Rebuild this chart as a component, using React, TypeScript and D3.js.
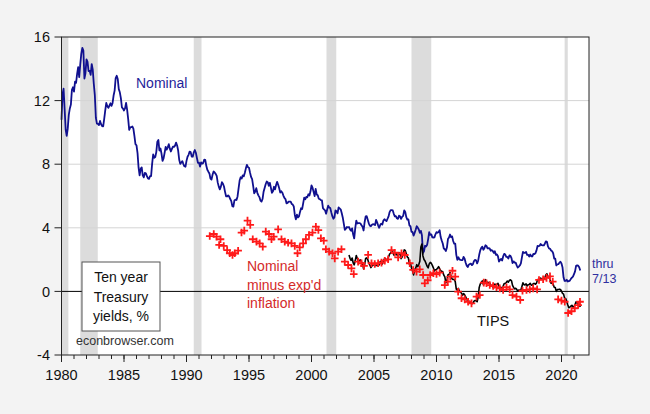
import React from "react";
import * as d3 from "d3";

// Ten-year Treasury nominal yield, monthly from Jan 1980
const nominalStart = 1980;
const nominal = [
  10.8, 12.41, 12.75, 11.47, 10.18, 9.78, 10.25, 11.1, 11.51, 11.75, 12.68, 12.84,
  12.57, 13.19, 13.12, 13.68, 14.1, 13.47, 14.28, 14.94, 15.32, 15.15, 13.39, 13.72,
  14.59, 14.43, 13.86, 13.87, 13.62, 14.3, 13.95, 13.06, 12.34, 10.91, 10.55, 10.54,
  10.46, 10.72, 10.51, 10.4, 10.38, 10.85, 11.38, 11.85, 11.65, 11.54, 11.69, 11.83,
  11.67, 11.84, 12.32, 12.63, 13.41, 13.56, 13.36, 12.72, 12.52, 12.16, 11.57, 11.5,
  11.38, 11.51, 11.86, 11.43, 10.85, 10.16, 10.31, 10.33, 10.37, 10.24, 9.78, 9.26,
  9.19, 8.7, 7.78, 7.3, 7.71, 7.8, 7.3, 7.17, 7.45, 7.43, 7.25, 7.11,
  7.08, 7.25, 7.25, 8.02, 8.61, 8.4, 8.45, 8.76, 9.42, 9.52, 8.86, 8.99,
  8.67, 8.21, 8.37, 8.72, 9.09, 8.92, 9.06, 9.26, 8.98, 8.8, 8.96, 9.11,
  9.09, 9.17, 9.36, 9.18, 8.86, 8.28, 8.02, 8.11, 8.19, 8.01, 7.87, 7.84,
  8.21, 8.47, 8.59, 8.79, 8.76, 8.48, 8.47, 8.75, 8.89, 8.72, 8.39, 8.08,
  8.09, 7.85, 8.11, 8.04, 8.07, 8.28, 8.27, 7.9, 7.65, 7.53, 7.42, 7.09,
  7.03, 7.34, 7.54, 7.48, 7.39, 7.26, 6.84, 6.59, 6.42, 6.59, 6.87, 6.77,
  6.6, 6.26, 5.98, 5.97, 6.04, 5.96, 5.81, 5.68, 5.36, 5.33, 5.72, 5.77,
  5.75, 5.97, 6.48, 6.97, 7.18, 7.1, 7.3, 7.24, 7.46, 7.74, 7.96, 7.81,
  7.78, 7.47, 7.2, 7.06, 6.63, 6.17, 6.28, 6.49, 6.2, 6.04, 5.93, 5.71,
  5.65, 5.81, 6.27, 6.51, 6.74, 6.91, 6.87, 6.64, 6.83, 6.53, 6.2, 6.3,
  6.58, 6.42, 6.69, 6.89, 6.71, 6.49, 6.22, 6.3, 6.21, 6.03, 5.88, 5.81,
  5.54, 5.57, 5.65, 5.64, 5.65, 5.5, 5.46, 5.34, 4.81, 4.53, 4.83, 4.65,
  4.72, 5.0, 5.23, 5.18, 5.54, 5.9, 5.79, 5.94, 5.92, 6.11, 6.03, 6.28,
  6.66, 6.52, 6.26, 5.99, 6.44, 6.1, 6.05, 5.83, 5.8, 5.74, 5.72, 5.24,
  5.16, 5.1, 4.89, 5.14, 5.39, 5.28, 5.24, 4.97, 4.73, 4.57, 4.65, 5.09,
  5.04, 4.91, 5.28, 5.21, 5.16, 4.93, 4.65, 4.26, 3.87, 3.94, 4.05, 4.03,
  4.05, 3.9, 3.81, 3.96, 3.57, 3.33, 3.98, 4.45, 4.27, 4.29, 4.3, 4.27,
  4.15, 4.08, 3.83, 4.35, 4.72, 4.73, 4.5, 4.28, 4.13, 4.1, 4.19, 4.23,
  4.22, 4.17, 4.5, 4.34, 4.14, 4.0, 4.18, 4.26, 4.2, 4.46, 4.54, 4.47,
  4.42, 4.57, 4.72, 4.99, 5.11, 5.11, 5.09, 4.88, 4.72, 4.73, 4.6, 4.56,
  4.76, 4.72, 4.56, 4.69, 4.75, 5.1, 5.0, 4.67, 4.52, 4.53, 4.15, 4.1,
  3.74, 3.74, 3.51, 3.68, 3.88, 4.1, 4.01, 3.89, 3.69, 3.81, 3.53, 2.42,
  2.52, 2.87, 2.82, 2.93, 3.29, 3.72, 3.56, 3.59, 3.4, 3.39, 3.4, 3.59,
  3.73, 3.69, 3.73, 3.85, 3.42, 3.2, 3.01, 2.7, 2.65, 2.54, 2.76, 3.29,
  3.39, 3.58, 3.41, 3.46, 3.17, 3.0, 3.0, 2.3, 1.98, 2.15, 2.01, 1.98,
  1.97, 1.97, 2.17, 2.05, 1.8, 1.62, 1.53, 1.68, 1.72, 1.75, 1.65, 1.72,
  1.91, 1.98, 1.96, 1.76, 1.93, 2.3, 2.58, 2.74, 2.81, 2.62, 2.72, 2.9,
  2.86, 2.71, 2.72, 2.71, 2.56, 2.6, 2.54, 2.42, 2.53, 2.3, 2.33, 2.21,
  1.88, 1.98, 2.04, 1.94, 2.2, 2.36, 2.32, 2.17, 2.17, 2.07, 2.26, 2.24,
  2.09, 1.78, 1.89, 1.81, 1.81, 1.64, 1.5, 1.56, 1.63, 1.76, 2.14, 2.49,
  2.43, 2.42, 2.48, 2.3, 2.3, 2.19, 2.32, 2.21, 2.2, 2.36, 2.35, 2.4,
  2.58, 2.86, 2.84, 2.87, 2.98, 2.91, 2.89, 2.89, 3.0, 3.15, 3.12, 2.83,
  2.71, 2.68, 2.57, 2.53, 2.4, 2.07, 2.06, 1.63, 1.7, 1.71, 1.81, 1.86,
  1.76, 1.5, 0.87, 0.66, 0.67, 0.73, 0.62, 0.65, 0.68, 0.79, 0.87, 0.93,
  1.08, 1.26, 1.61, 1.64, 1.62, 1.52, 1.32,
];

// Ten-year TIPS yield, monthly from Jan 2003
const tipsStart = 2003;
const tips = [
  2.29, 2.08, 1.95, 2.1, 1.8, 1.67, 1.94, 2.26, 2.07, 1.92, 1.96, 1.98,
  1.86, 1.73, 1.42, 1.69, 2.07, 2.11, 2.01, 1.79, 1.66, 1.5, 1.6, 1.68,
  1.67, 1.62, 1.75, 1.61, 1.62, 1.67, 1.88, 1.89, 1.73, 1.88, 2.05, 2.06,
  1.98, 2.01, 2.17, 2.35, 2.42, 2.53, 2.5, 2.29, 2.31, 2.41, 2.29, 2.25,
  2.44, 2.35, 2.06, 2.16, 2.32, 2.61, 2.57, 2.37, 2.16, 2.11, 1.7, 1.78,
  1.47, 1.28, 1.04, 1.36, 1.45, 1.68, 1.56, 1.69, 1.9, 2.79, 2.98, 2.23,
  2.01, 1.91, 1.75, 1.58, 1.48, 1.73, 1.82, 1.77, 1.64, 1.48, 1.28, 1.36,
  1.37, 1.45, 1.56, 1.43, 1.31, 1.26, 1.24, 1.02, 0.91, 0.53, 0.67, 1.04,
  1.06, 1.19, 0.94, 0.78, 0.75, 0.76, 0.62, 0.14, 0.08, 0.19, 0.0, -0.03,
  -0.11, -0.25, -0.14, -0.21, -0.34, -0.5, -0.6, -0.59, -0.71, -0.74, -0.78, -0.75,
  -0.61, -0.57, -0.59, -0.65, -0.36, 0.25, 0.46, 0.55, 0.66, 0.43, 0.55, 0.74,
  0.61, 0.55, 0.56, 0.54, 0.37, 0.37, 0.28, 0.22, 0.46, 0.38, 0.45, 0.51,
  0.29, 0.25, 0.26, 0.09, 0.33, 0.5, 0.5, 0.56, 0.65, 0.58, 0.69, 0.73,
  0.67, 0.38, 0.25, 0.16, 0.2, 0.13, 0.02, 0.09, 0.07, 0.09, 0.31, 0.54,
  0.42, 0.4, 0.48, 0.34, 0.42, 0.44, 0.51, 0.39, 0.39, 0.5, 0.5, 0.45,
  0.52, 0.74, 0.74, 0.75, 0.84, 0.78, 0.78, 0.76, 0.86, 1.04, 1.1, 0.94,
  0.88, 0.73, 0.51, 0.54, 0.45, 0.26, 0.24, 0.0, 0.11, 0.12, 0.14, 0.12,
  0.01, -0.12, -0.17, -0.44, -0.45, -0.62, -0.84, -1.03, -0.99, -0.93, -0.87, -0.98,
  -0.98, -0.82, -0.66, -0.69, -0.85, -0.81, -0.98,
];

// Nominal minus expected inflation (crosses)
const realDates = [
  1991.86, 1992.18, 1992.4, 1992.61, 1992.72, 1992.98, 1993.25, 1993.46, 1993.68, 1993.86,
  1994.13, 1994.4, 1994.62, 1994.88, 1995.1, 1995.3, 1995.6, 1995.85, 1996.1, 1996.34,
  1996.6, 1996.8, 1996.98, 1997.33, 1997.6, 1997.86, 1998.13, 1998.4, 1998.66, 1998.88,
  1999.06, 1999.33, 1999.55, 1999.8, 2000.08, 2000.35, 2000.55, 2000.75, 2000.98, 2001.15,
  2001.41, 2001.68, 2001.86, 2002.13, 2002.4, 2002.66, 2002.93, 2003.2, 2003.38, 2003.73,
  2004.0, 2004.2, 2004.53, 2004.8, 2005.06, 2005.33, 2005.6, 2005.86, 2006.13, 2006.4,
  2006.66, 2006.93, 2007.2, 2007.46, 2007.86, 2008.13, 2008.4, 2008.66, 2008.93, 2009.06,
  2009.3, 2009.5, 2009.75, 2010.0, 2010.25, 2010.66, 2010.9, 2011.1, 2011.28, 2011.5,
  2011.73, 2012.0, 2012.26, 2012.53, 2012.8, 2013.2, 2013.46, 2013.78, 2014.0, 2014.26,
  2014.53, 2014.8, 2015.06, 2015.33, 2015.6, 2015.86, 2016.08, 2016.4, 2016.7, 2016.88,
  2017.2, 2017.46, 2017.73, 2018.05, 2018.2, 2018.53, 2018.8, 2019.08, 2019.3, 2019.73,
  2020.0, 2020.26, 2020.53, 2020.8, 2021.06, 2021.33, 2021.48,
];
const realValues = [
  3.48, 3.61, 3.44, 2.92, 3.28, 2.86, 2.6, 2.4, 2.29, 2.4,
  2.56, 3.7, 3.82, 4.45, 4.18, 3.28, 3.13, 3.02, 2.81, 3.76,
  3.61, 3.28, 3.44, 3.9, 3.28, 3.13, 3.06, 3.02, 2.86, 2.4,
  2.77, 3.02, 3.28, 3.55, 3.7, 4.07, 3.86, 3.34, 3.19, 2.65,
  2.5, 2.4, 2.08, 2.5, 2.65, 1.87, 1.66, 1.45, 1.09, 1.87,
  1.77, 1.6, 2.3, 1.77, 1.72, 1.77, 1.81, 1.93, 2.02, 2.6,
  2.43, 2.14, 2.4, 2.29, 1.77, 1.35, 1.24, 1.39, 1.03, 0.51,
  0.7, 1.03, 1.14, 1.09, 1.18, 0.4, 0.61, 0.93, 1.3, 0.93,
  -0.02, -0.43, -0.5, -0.65, -0.75, -0.33, -0.23, 0.55, 0.51, 0.4,
  0.34, 0.26, 0.19, 0.09, 0.26, 0.13, -0.23, -0.33, -0.54, 0.04,
  0.09, 0.13, 0.19, 0.13, 0.72, 0.76, 0.85, 0.95, 0.61, -0.5,
  -0.58, -0.65, -1.36, -1.25, -1.06, -0.86, -0.65,
];

const recessionStarts = [1980.0, 1981.5, 1990.58, 2001.2, 2008.0, 2020.25];
const recessionEnds = [1980.55, 1982.9, 1991.2, 2001.98, 2009.58, 2020.5];

const yTicks = [-4, 0, 4, 8, 12, 16];
const yGrid = [4, 8, 12];
const xMajor = [1980, 1985, 1990, 1995, 2000, 2005, 2010, 2015, 2020];
const xMinor = d3.range(1980, 2022);

const FONT = "Arial, 'Liberation Sans', Helvetica, sans-serif";

export default function App() {
  const W = 650;
  const H = 414;
  const left = 61.5;
  const right = 589;
  const top = 37;
  const bottom = 355;
  const x = d3.scaleLinear().domain([1980, 2022.2]).range([left, right]);
  const y = d3.scaleLinear().domain([-4, 16]).range([bottom, top]);

  const nomPts: [number, number][] = nominal.map((v, i) => [nominalStart + i / 12, v]);
  const tipsPts: [number, number][] = tips.map((v, i) => [tipsStart + i / 12, v]);
  const line = d3
    .line<[number, number]>()
    .x((d) => x(d[0]))
    .y((d) => y(d[1]));

  const NAVY = "#10108f";
  const RED = "#ff1a1a";

  return (
    <svg
      width={W}
      height={H}
      style={{ position: "absolute", left: 0, top: 0, display: "block" }}
      fontFamily={FONT}
    >
      <rect x={0} y={0} width={W} height={H} fill="#f3f3f3" />
      <rect x={left} y={top} width={right - left} height={bottom - top} fill="#ffffff" />
      {recessionStarts.map((s, i) => (
        <rect
          key={"r" + i}
          x={x(s)}
          y={top}
          width={x(recessionEnds[i]) - x(s)}
          height={bottom - top}
          fill="#dcdcdc"
        />
      ))}
      {yGrid.map((v) => (
        <line key={"g" + v} x1={left} x2={right} y1={y(v)} y2={y(v)} stroke="#d4d4d4" strokeWidth={1} />
      ))}
      <line x1={left} x2={right} y1={y(0)} y2={y(0)} stroke="#000" strokeWidth={1} />

      <path d={line(nomPts) || ""} fill="none" stroke={NAVY} strokeWidth={1.8} strokeLinejoin="round" />
      <path d={line(tipsPts) || ""} fill="none" stroke="#000" strokeWidth={1.6} strokeLinejoin="round" />
      {realDates.map((t, i) => (
        <path
          key={"c" + i}
          transform={`translate(${x(t)},${y(realValues[i])})`}
          d="M-3.8,0H3.8M0,-3.8V3.8"
          stroke={RED}
          strokeWidth={1.8}
          fill="none"
        />
      ))}

      {/* frame */}
      <rect x={left} y={top} width={right - left} height={bottom - top} fill="none" stroke="#222" strokeWidth={1} />

      {/* y axis */}
      {yTicks.map((v) => (
        <g key={"y" + v}>
          <line x1={left - 7} x2={left} y1={y(v)} y2={y(v)} stroke="#222" />
          <text x={50} y={y(v)} dy="0.36em" textAnchor="end" fontSize={14.5} fill="#111">
            {v}
          </text>
        </g>
      ))}
      {/* x axis */}
      {xMinor.map((t) => (
        <line key={"m" + t} x1={x(t)} x2={x(t)} y1={bottom} y2={bottom + 4} stroke="#222" />
      ))}
      {xMajor.map((t) => (
        <g key={"x" + t}>
          <line x1={x(t)} x2={x(t)} y1={bottom} y2={bottom + 7} stroke="#222" />
          <text x={x(t)} y={380} textAnchor="middle" fontSize={14.5} fill="#111">
            {t}
          </text>
        </g>
      ))}

      {/* annotations */}
      <text x={136} y={88} fontSize={14} fill="#1f1f9a">Nominal</text>
      <text x={592} y={268} fontSize={12.5} fill="#3030a0">thru</text>
      <text x={592} y={283} fontSize={12.5} fill="#3030a0">7/13</text>
      <text fontSize={14} fill="#d42a2a">
        <tspan x={247} y={271}>Nominal</tspan>
        <tspan x={247} y={289.5}>minus exp'd</tspan>
        <tspan x={247} y={308}>inflation</tspan>
      </text>
      <text x={477} y={326} fontSize={14.5} fill="#111">TIPS</text>

      <rect x={82} y={262} width={78} height={69} fill="#ffffff" stroke="#555" strokeWidth={1} />
      <text fontSize={14} fill="#111" textAnchor="middle">
        <tspan x={121} y={282}>Ten year</tspan>
        <tspan x={121} y={302}>Treasury</tspan>
        <tspan x={121} y={321}>yields, %</tspan>
      </text>
      <text x={76} y={345} fontSize={12.5} fill="#333">econbrowser.com</text>
    </svg>
  );
}
